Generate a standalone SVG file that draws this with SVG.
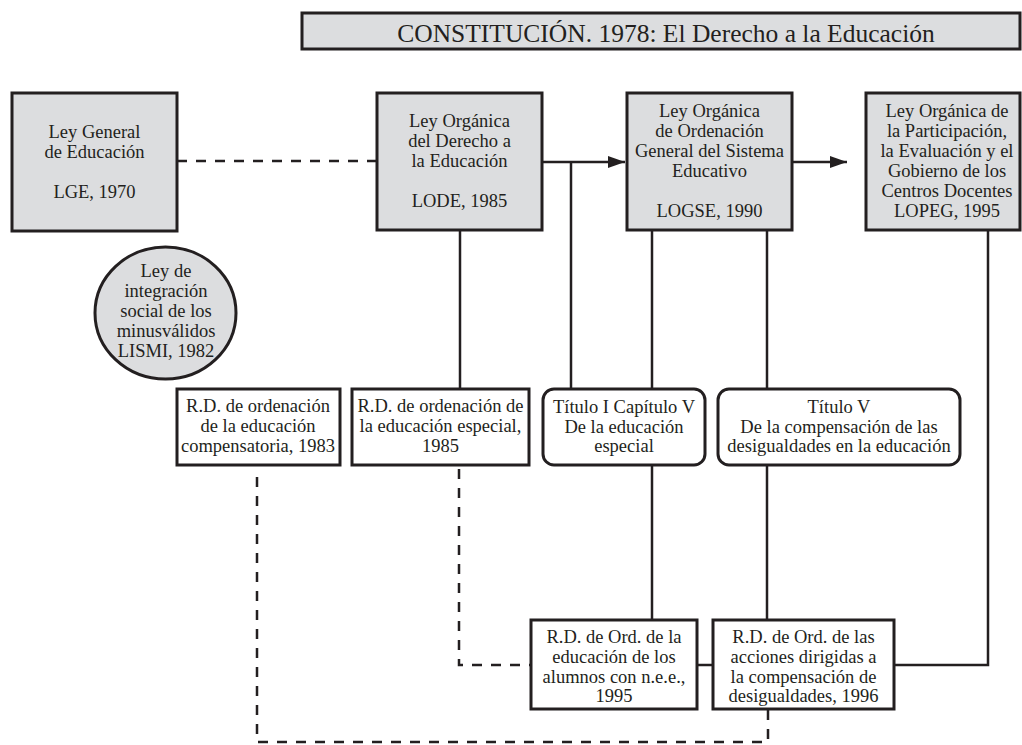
<svg xmlns="http://www.w3.org/2000/svg" width="1022" height="745" viewBox="0 0 1022 745">
<style>
.box{fill:#dcdddf;stroke:#231f20;stroke-width:3}
.wbox{fill:#ffffff;stroke:#231f20;stroke-width:3}
text{font-family:"Liberation Serif","Times New Roman",serif;font-size:18.5px;fill:#231f20;text-anchor:middle}
.title{font-size:25.5px}
.ln{fill:none;stroke:#231f20;stroke-width:2.5}
.dash{fill:none;stroke:#231f20;stroke-width:2.5;stroke-dasharray:10 9}
</style>
<defs>
<marker id="arr" markerUnits="userSpaceOnUse" markerWidth="17" markerHeight="12" refX="17" refY="6" orient="auto"><path d="M0,0 L17,6 L0,12 z" fill="#231f20"/></marker>
</defs>
<rect width="1022" height="745" fill="#ffffff"/>
<g id="connectors">
<path class="dash" d="M177,161 H377"/>
<path class="ln" d="M542,162 H625" marker-end="url(#arr)"/>
<path class="ln" d="M571,162 V389"/>
<path class="ln" d="M460,230 V389"/>
<path class="ln" d="M792,162 H847" marker-end="url(#arr)"/>
<path class="ln" d="M652,230 V389"/>
<path class="ln" d="M767,230 V389"/>
<path class="ln" d="M652,465 V620"/>
<path class="ln" d="M767,465 V620"/>
<path class="ln" d="M697,665 H713"/>
<path class="ln" d="M988,230 V665 H894"/>
<path class="dash" d="M459,469 V665 H531"/>
<path class="dash" d="M257,477 V742 H768 V709"/>
</g>
<g id="title">
<rect class="box" x="302" y="13" width="718" height="36"/>
<text class="title" x="666" y="42">CONSTITUCIÓN. 1978: El Derecho a la Educación</text>
</g>
<g id="lge">
<rect class="box" x="12" y="93" width="165" height="138"/>
<text x="94.5" y="138">Ley General</text>
<text x="94.5" y="158">de Educación</text>
<text x="94.5" y="198">LGE, 1970</text>
</g>
<g id="lode">
<rect class="box" x="377" y="93" width="165" height="137"/>
<text x="459.5" y="127">Ley Orgánica</text>
<text x="459.5" y="147">del Derecho a</text>
<text x="459.5" y="167">la Educación</text>
<text x="459.5" y="207">LODE, 1985</text>
</g>
<g id="logse">
<rect class="box" x="627" y="93" width="165" height="137"/>
<text x="709.5" y="117">Ley Orgánica</text>
<text x="709.5" y="137">de Ordenación</text>
<text x="709.5" y="157">General del Sistema</text>
<text x="709.5" y="177">Educativo</text>
<text x="709.5" y="217">LOGSE, 1990</text>
</g>
<g id="lopeg">
<rect class="box" x="866" y="93" width="154" height="137"/>
<text x="947" y="117">Ley Orgánica de</text>
<text x="947" y="137">la Participación,</text>
<text x="947" y="157">la Evaluación y el</text>
<text x="947" y="177">Gobierno de los</text>
<text x="947" y="197">Centros Docentes</text>
<text x="947" y="217">LOPEG, 1995</text>
</g>
<g id="lismi">
<ellipse class="box" cx="165.5" cy="313" rx="70.5" ry="66"/>
<text x="166" y="277">Ley de</text>
<text x="166" y="297">integración</text>
<text x="166" y="317">social de los</text>
<text x="166" y="337">minusválidos</text>
<text x="166" y="357">LISMI, 1982</text>
</g>
<g id="rd-compensatoria">
<rect class="wbox" x="177" y="389" width="163" height="76"/>
<text x="258" y="412">R.D. de ordenación</text>
<text x="258" y="432">de la educación</text>
<text x="258" y="452">compensatoria, 1983</text>
</g>
<g id="rd-especial">
<rect class="wbox" x="352" y="389" width="177" height="76"/>
<text x="440.5" y="412">R.D. de ordenación de</text>
<text x="440.5" y="432">la educación especial,</text>
<text x="440.5" y="452">1985</text>
</g>
<g id="titulo-i">
<rect class="wbox" x="543" y="389" width="162" height="76" rx="11"/>
<text x="624" y="413">Título I Capítulo V</text>
<text x="624" y="433">De la educación</text>
<text x="624" y="452">especial</text>
</g>
<g id="titulo-v">
<rect class="wbox" x="718" y="389" width="242" height="76" rx="11"/>
<text x="839" y="413">Título V</text>
<text x="839" y="433">De la compensación de las</text>
<text x="839" y="452">desigualdades en la educación</text>
</g>
<g id="rd-nee">
<rect class="wbox" x="531" y="620" width="166" height="89"/>
<text x="614" y="643">R.D. de Ord. de la</text>
<text x="614" y="663">educación de los</text>
<text x="614" y="683">alumnos con n.e.e.,</text>
<text x="614" y="702">1995</text>
</g>
<g id="rd-1996">
<rect class="wbox" x="713" y="620" width="181" height="89"/>
<text x="803.5" y="643">R.D. de Ord. de las</text>
<text x="803.5" y="663">acciones dirigidas a</text>
<text x="803.5" y="683">la compensación de</text>
<text x="803.5" y="702">desigualdades, 1996</text>
</g>
</svg>
